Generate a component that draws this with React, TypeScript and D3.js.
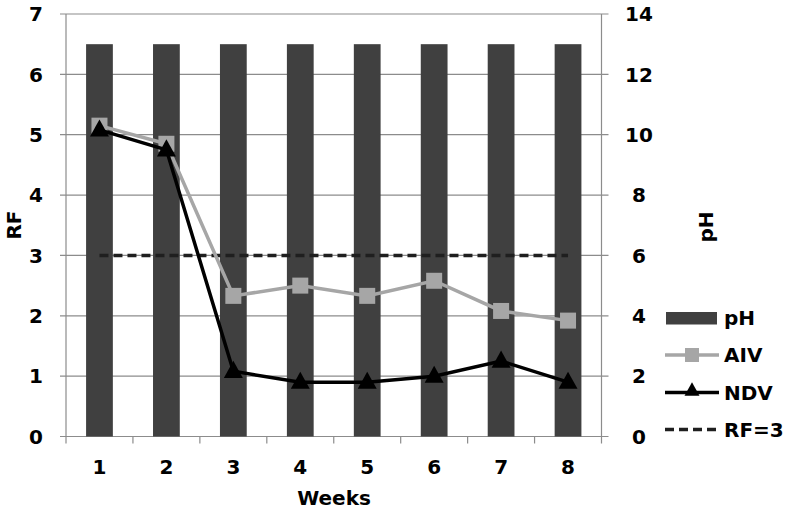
import React from "react";
import * as d3 from "d3";

const weeks = ["1", "2", "3", "4", "5", "6", "7", "8"];
const pH = [13, 13, 13, 13, 13, 13, 13, 13];
const AIV = [5.15, 4.85, 2.33, 2.5, 2.33, 2.58, 2.08, 1.92];
const NDV = [5.08, 4.75, 1.08, 0.9, 0.9, 1.0, 1.25, 0.9];
const RF3 = [3, 3, 3, 3, 3, 3, 3, 3];
const leftTicks = [0, 1, 2, 3, 4, 5, 6, 7];
const rightTicks = [0, 2, 4, 6, 8, 10, 12, 14];

export default function App() {
  const W = 787, H = 514;
  const left = 66, right = 601.5, top = 14, bottom = 436.5;
  const x = d3.scaleBand<string>().domain(weeks).range([left, right]).paddingInner(0.6).paddingOuter(0.3);
  const xc = (w: string) => (x(w) as number) + x.bandwidth() / 2;
  const xb = d3.scaleBand<string>().domain(weeks).range([left, right]);
  const y = d3.scaleLinear().domain([0, 7]).range([bottom, top]);
  const y2 = d3.scaleLinear().domain([0, 14]).range([bottom, top]);
  const line = d3.line<number>().x((_, i) => xc(weeks[i])).y((d) => y(d));
  const font = "'DejaVu Sans', 'Liberation Sans', Arial, sans-serif";
  const grid = "#8c8c8c";
  const fs = 20;
  const tri = (cx: number, cy: number, s: number) =>
    `M${cx},${cy - s * 0.55} L${cx + s * 0.5},${cy + s * 0.35} L${cx - s * 0.5},${cy + s * 0.35} Z`;

  return (
    <svg width={W} height={H} style={{ position: "absolute", left: 0, top: 0, background: "#fff" }}
      fontFamily={font} fontWeight="bold">
      {leftTicks.map((t) => (
        <line key={"g" + t} x1={left - 6} x2={right + 7} y1={y(t)} y2={y(t)} stroke={grid} strokeWidth={1.2} />
      ))}
      <line x1={left} x2={left} y1={top} y2={bottom} stroke={grid} strokeWidth={1.2} />
      <line x1={right} x2={right} y1={top} y2={bottom + 7} stroke={grid} strokeWidth={1.2} />
      {weeks.map((w) => (
        <line key={"xt" + w} x1={xb(w) as number} x2={xb(w) as number} y1={bottom} y2={bottom + 7} stroke={grid} strokeWidth={1.2} />
      ))}
      {pH.map((v, i) => (
        <rect key={"b" + i} x={x(weeks[i]) as number} width={x.bandwidth()} y={y2(v)} height={bottom - y2(v)} fill="#404040" />
      ))}
      <path d={line(RF3) as string} fill="none" stroke="#1f1f1f" strokeWidth={3.5} strokeDasharray="9,5" />
      <path d={line(AIV) as string} fill="none" stroke="#a6a6a6" strokeWidth={3.5} />
      {AIV.map((v, i) => (
        <rect key={"a" + i} x={xc(weeks[i]) - 8} y={y(v) - 8} width={16} height={16} fill="#a6a6a6" />
      ))}
      <path d={line(NDV) as string} fill="none" stroke="#000" strokeWidth={3.5} />
      {NDV.map((v, i) => (
        <path key={"n" + i} d={tri(xc(weeks[i]), y(v), 19)} fill="#000" />
      ))}
      {leftTicks.map((t) => (
        <text key={"l" + t} x={43} y={y(t)} dy="0.36em" textAnchor="end" fontSize={fs}>{t}</text>
      ))}
      {rightTicks.map((t) => (
        <text key={"r" + t} x={639} y={y2(t)} dy="0.36em" textAnchor="middle" fontSize={fs}>{t}</text>
      ))}
      {weeks.map((w) => (
        <text key={"w" + w} x={xc(w)} y={467} dy="0.36em" textAnchor="middle" fontSize={fs}>{w}</text>
      ))}
      <text x={334} y={498} dy="0.36em" textAnchor="middle" fontSize={fs}>Weeks</text>
      <text transform={`translate(14,225) rotate(-90)`} textAnchor="middle" dy="0.36em" fontSize={fs}>RF</text>
      <text transform={`translate(706,227) rotate(-90)`} textAnchor="middle" dy="0.36em" fontSize={fs}>pH</text>
      <rect x={666} y={312} width={51} height={12.5} fill="#404040" />
      <text x={724} y={318} dy="0.36em" fontSize={fs}>pH</text>
      <line x1={665} x2={719} y1={355} y2={355} stroke="#a6a6a6" strokeWidth={3.5} />
      <rect x={685} y={348} width={14} height={14} fill="#a6a6a6" />
      <text x={724} y={355} dy="0.36em" fontSize={fs}>AIV</text>
      <line x1={665} x2={719} y1={392.5} y2={392.5} stroke="#000" strokeWidth={3.5} />
      <path d={tri(692, 390.5, 15)} fill="#000" />
      <text x={724} y={392.5} dy="0.36em" fontSize={fs}>NDV</text>
      <line x1={665} x2={719} y1={429.5} y2={429.5} stroke="#1f1f1f" strokeWidth={3.5} strokeDasharray="9,5" />
      <text x={724} y={429.5} dy="0.36em" fontSize={fs}>RF=3</text>
    </svg>
  );
}
